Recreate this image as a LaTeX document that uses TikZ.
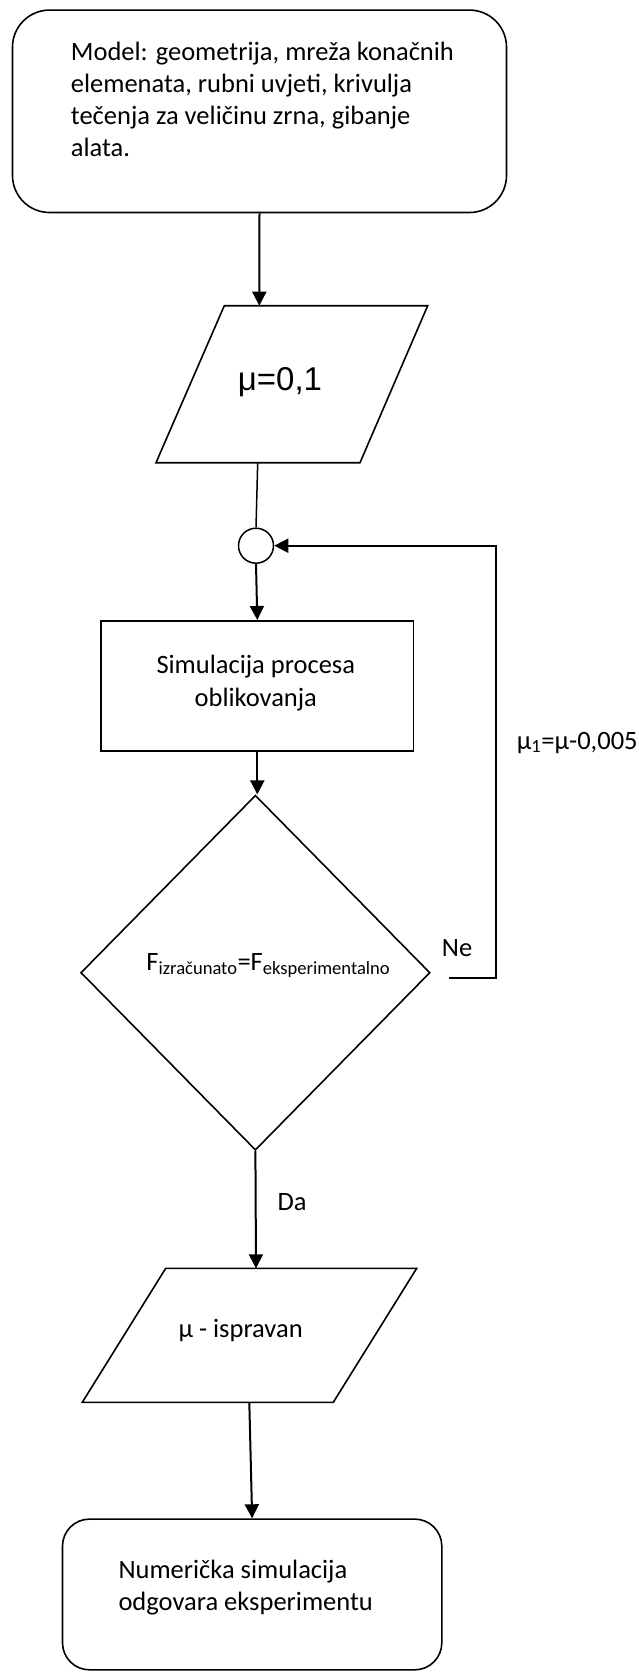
\documentclass[tikz,border=0pt]{standalone}
\usepackage{fontspec}
\setmainfont{Carlito}
\newfontfamily\arialf{Liberation Sans}
\usetikzlibrary{arrows.meta,shapes.geometric}
\begin{document}
\begin{tikzpicture}[x=1pt,y=-1pt,
  shapeline/.style={line width=1.6pt},
  flow/.style={line width=2pt,-{Triangle[length=14pt,width=14pt]}},
  plainline/.style={line width=1.5pt},
  txt/.style={inner sep=0pt,font=\fontsize{26.5}{32}\selectfont},
]
\useasboundingbox (0,0) rectangle (638,1672);

% top box
\node[draw, shapeline, rounded corners=37pt, minimum width=494pt, minimum height=202.4pt, inner sep=0pt, anchor=north west] (model) at (11.7,9.3) {};
\node[txt, anchor=base west, align=left] (modeltxt) at (70.7,157) {Model: geometrija, mreža konačnih\\elemenata, rubni uvjeti, krivulja\\tečenja za veličinu zrna, gibanje\\alata.};

% parallelogram mu=0,1
\coordinate (p1n) at (259.3,305.7);
\coordinate (p1s) at (257.7,462.7);
\draw[shapeline] (224.3,305.7) -- (427.7,305.7) -- (360,462.7) -- (156,462.7) -- cycle;
\node[inner sep=0pt, font=\arialf\fontsize{33}{39}\selectfont, anchor=base] (mu0) at (280,390.7) {μ=0,1};

% junction circle
\node[draw, circle, plainline, minimum size=35pt, inner sep=0pt] (junc) at (256,545.7) {};

% simulation rectangle
\node[draw, shapeline, minimum width=312.4pt, minimum height=130pt, inner sep=0pt, anchor=north west] (sim) at (100.3,620) {};
\node[txt, align=center, anchor=base] (simtxt) at (255.8,706.7) {Simulacija procesa\\[1.4pt]oblikovanja};

% decision diamond
\node[draw, diamond, shapeline, minimum width=349.3pt, minimum height=355pt, inner sep=0pt] (dec) at (255.4,972.7) {};
\node[txt, anchor=base] (dectxt) at (268.3,970) {F\textsubscript{izračunato}=F\textsubscript{eksperimentalno}};

% parallelogram mu - ispravan
\coordinate (p2n) at (256,1268.3);
\coordinate (p2s) at (249.3,1402.3);
\draw[shapeline] (165.7,1268.3) -- (416.7,1268.3) -- (333.3,1402.3) -- (82.3,1402.3) -- cycle;
\node[txt, anchor=base west] (mu2) at (178.3,1337.3) {μ - ispravan};

% result box
\node[draw, shapeline, rounded corners=27pt, minimum width=379.3pt, minimum height=150.7pt, inner sep=0pt, anchor=north west] (res) at (61.7,1518.3) {};
\node[txt, anchor=base west, align=left] (restxt) at (118.3,1610) {Numerička simulacija\\odgovara eksperimentu};

% connectors
\draw[flow] (model.south) -- (p1n);
\draw[plainline] (p1s) -- (junc.north);
\draw[flow] (junc.south) -- (sim.north);
\draw[flow] (sim.south) -- (sim.south |- dec.north);
\draw[flow] (dec.south) -- (p2n);
\draw[flow] (p2s) -- (res.north);

% feedback loop
\coordinate (neo) at (449,977.7);
\coordinate (loopc) at (495.7,977.7);
\draw[flow] (neo) -- (loopc) |- (junc.east);

% labels
\node[txt, anchor=base west] (ne) at (441.7,956) {Ne};
\node[txt, anchor=base west] (mu1) at (516.7,749) {μ\textsubscript{1}=μ-0,005};
\node[txt, anchor=base west] (da) at (277.3,1210) {Da};
\end{tikzpicture}
\end{document}
